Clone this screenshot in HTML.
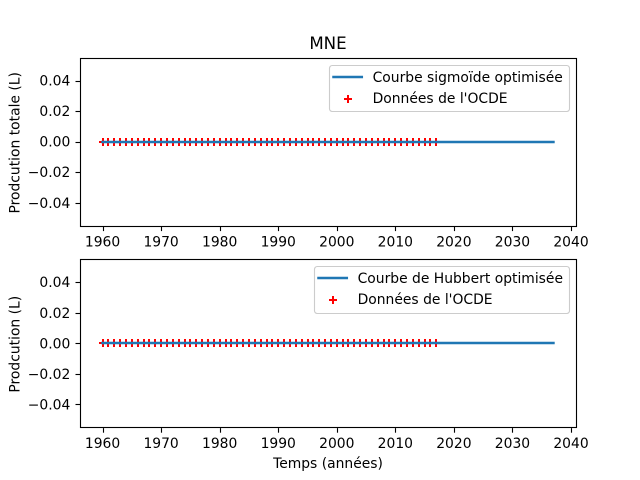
<!DOCTYPE html>
<html lang="fr">
<head>
<meta charset="utf-8">
<title>MNE</title>
<style>
html,body{margin:0;padding:0;background:#fff;width:640px;height:480px;overflow:hidden}
svg{display:block}
text{font-family:"DejaVu Sans","Liberation Sans",sans-serif;font-size:13.889px;fill:#000;white-space:pre}
</style>
</head>
<body>
<svg id="chart" xmlns="http://www.w3.org/2000/svg" width="640" height="480" viewBox="0 0 640 480">
  <rect x="0" y="0" width="640" height="480" fill="#fff"/>
  <text x="328" y="49" text-anchor="middle" style="font-size:16.667px">MNE</text>

  <g>
    <g id="top-marks"></g>
    <g id="top-axes"></g>
    <text transform="translate(19.5 142.8) rotate(-90)" text-anchor="middle">Prodcution totale (L)</text>
    <g>
      <rect x="329.5" y="65.5" width="240" height="46" rx="2.8" fill="#fff" fill-opacity="0.8" stroke="#ccc" stroke-width="1.11"/>
      <line x1="333.5" x2="361.8" y1="77" y2="77" stroke="#1f77b4" stroke-width="2.5" stroke-linecap="square"/>
      <text x="372.6" y="82">Courbe sigmoïde optimisée</text>
      <path d="M344 99h8M348 95v8" stroke="#f00" stroke-width="2" fill="none"/>
      <text x="372.6" y="103">Données de l'OCDE</text>
    </g>
  </g>

  <g>
    <g id="bottom-marks"></g>
    <g id="bottom-axes"></g>
    <text transform="translate(19.5 344.2) rotate(-90)" text-anchor="middle">Prodcution (L)</text>
    <text x="328" y="468" text-anchor="middle">Temps (années)</text>
    <g>
      <rect x="314.5" y="266.5" width="255" height="47" rx="2.8" fill="#fff" fill-opacity="0.8" stroke="#ccc" stroke-width="1.11"/>
      <line x1="318.5" x2="346.8" y1="278" y2="278" stroke="#1f77b4" stroke-width="2.5" stroke-linecap="square"/>
      <text x="357.6" y="283">Courbe de Hubbert optimisée</text>
      <path d="M329 300h8M333 296v8" stroke="#f00" stroke-width="2" fill="none"/>
      <text x="357.6" y="304">Données de l'OCDE</text>
    </g>
  </g>
</svg>
<script>
const curveYears = [1960,1961,1962,1963,1964,1965,1966,1967,1968,1969,1970,1971,1972,1973,1974,1975,1976,1977,1978,1979,1980,1981,1982,1983,1984,1985,1986,1987,1988,1989,1990,1991,1992,1993,1994,1995,1996,1997,1998,1999,2000,2001,2002,2003,2004,2005,2006,2007,2008,2009,2010,2011,2012,2013,2014,2015,2016,2017,2018,2019,2020,2021,2022,2023,2024,2025,2026,2027,2028,2029,2030,2031,2032,2033,2034,2035,2036,2037];
const sigmoidValues = [0,0,0,0,0,0,0,0,0,0,0,0,0,0,0,0,0,0,0,0,0,0,0,0,0,0,0,0,0,0,0,0,0,0,0,0,0,0,0,0,0,0,0,0,0,0,0,0,0,0,0,0,0,0,0,0,0,0,0,0,0,0,0,0,0,0,0,0,0,0,0,0,0,0,0,0,0,0];
const hubbertValues = [0,0,0,0,0,0,0,0,0,0,0,0,0,0,0,0,0,0,0,0,0,0,0,0,0,0,0,0,0,0,0,0,0,0,0,0,0,0,0,0,0,0,0,0,0,0,0,0,0,0,0,0,0,0,0,0,0,0,0,0,0,0,0,0,0,0,0,0,0,0,0,0,0,0,0,0,0,0];
const oecdYears = [1960,1961,1962,1963,1964,1965,1966,1967,1968,1969,1970,1971,1972,1973,1974,1975,1976,1977,1978,1979,1980,1981,1982,1983,1984,1985,1986,1987,1988,1989,1990,1991,1992,1993,1994,1995,1996,1997,1998,1999,2000,2001,2002,2003,2004,2005,2006,2007,2008,2009,2010,2011,2012,2013,2014,2015,2016,2017];
const oecdCumulative = [0,0,0,0,0,0,0,0,0,0,0,0,0,0,0,0,0,0,0,0,0,0,0,0,0,0,0,0,0,0,0,0,0,0,0,0,0,0,0,0,0,0,0,0,0,0,0,0,0,0,0,0,0,0,0,0,0,0];
const oecdAnnual = [0,0,0,0,0,0,0,0,0,0,0,0,0,0,0,0,0,0,0,0,0,0,0,0,0,0,0,0,0,0,0,0,0,0,0,0,0,0,0,0,0,0,0,0,0,0,0,0,0,0,0,0,0,0,0,0,0,0];
const xTickValues = [1960,1970,1980,1990,2000,2010,2020,2030,2040];
const xTickLabels = ["1960","1970","1980","1990","2000","2010","2020","2030","2040"];
const yTickValues = [0.04,0.02,0,-0.02,-0.04];
const yTickLabels = ["0.04","0.02","0.00","\u22120.02","\u22120.04"];

const SVG_NS = "http://www.w3.org/2000/svg";
const xDomain = [1956.15, 2040.85];
const yDomain = [-0.055, 0.055];
const plotLeft = 80;
const plotRight = 576;

function xScale(value) {
  return plotLeft + (value - xDomain[0]) / (xDomain[1] - xDomain[0]) * (plotRight - plotLeft);
}
function yScale(value, top, bottom) {
  return bottom - (value - yDomain[0]) / (yDomain[1] - yDomain[0]) * (bottom - top);
}
function make(tag, parent, attrs) {
  const el = document.createElementNS(SVG_NS, tag);
  for (const key in attrs) el.setAttribute(key, attrs[key]);
  parent.appendChild(el);
  return el;
}
function drawPanel(marks, axes, top, bottom, lineValues, pointValues) {
  // OECD markers sit beneath the fitted curve, snapped to whole pixels
  oecdYears.forEach(function (year, i) {
    const px = Math.round(xScale(year));
    const py = Math.round(yScale(pointValues[i], top, bottom));
    const marker = make("path", marks, {
      d: "M" + (px - 4) + " " + py + "h8M" + px + " " + (py - 4) + "v8",
      stroke: "#f00",
      "stroke-width": 2,
      fill: "none"
    });
    
    
  });

  const points = curveYears.map(function (year, i) {
    return xScale(year) + "," + Math.round(yScale(lineValues[i], top, bottom));
  }).join(" ");
  const curve = make("polyline", marks, {
    points: points,
    stroke: "#1f77b4",
    "stroke-width": 2.5,
    "stroke-linecap": "square",
    fill: "none"
  });
  
  

  // Spines land on the pixel row just below the nominal axes edge
  const frame = make("rect", axes, {
    x: plotLeft + 0.5,
    y: Math.round(top) + 0.5,
    width: plotRight - plotLeft,
    height: Math.round(bottom - top),
    fill: "none",
    stroke: "#000",
    "stroke-width": 1.11
  });
  
  

  xTickValues.forEach(function (value, i) {
    const px = Math.round(xScale(value)) + 0.5;
    const tick = make("line", axes, {
      x1: px, x2: px, y1: bottom + 0.9, y2: bottom + 5.5,
      stroke: "#000",
      "stroke-width": 1.11
    });
    
    
    const label = make("text", axes, {
      x: xScale(value), y: bottom + 20.8, "text-anchor": "middle"
    });
    
    
    label.textContent = xTickLabels[i];
  });

  yTickValues.forEach(function (value, i) {
    const py = Math.round(yScale(value, top, bottom)) + 0.5;
    const tick = make("line", axes, {
      x1: plotLeft - 4.5, x2: plotLeft, y1: py, y2: py,
      stroke: "#000",
      "stroke-width": 1.11
    });
    
    
    const label = make("text", axes, {
      x: plotLeft - 9.7, y: yScale(value, top, bottom) + 5.1, "text-anchor": "end"
    });
    
    
    label.textContent = yTickLabels[i];
  });
}
drawPanel(document.getElementById("top-marks"), document.getElementById("top-axes"), 57.6, 225.6, sigmoidValues, oecdCumulative);
drawPanel(document.getElementById("bottom-marks"), document.getElementById("bottom-axes"), 259.2, 427.2, hubbertValues, oecdAnnual);
</script>
</body>
</html>
